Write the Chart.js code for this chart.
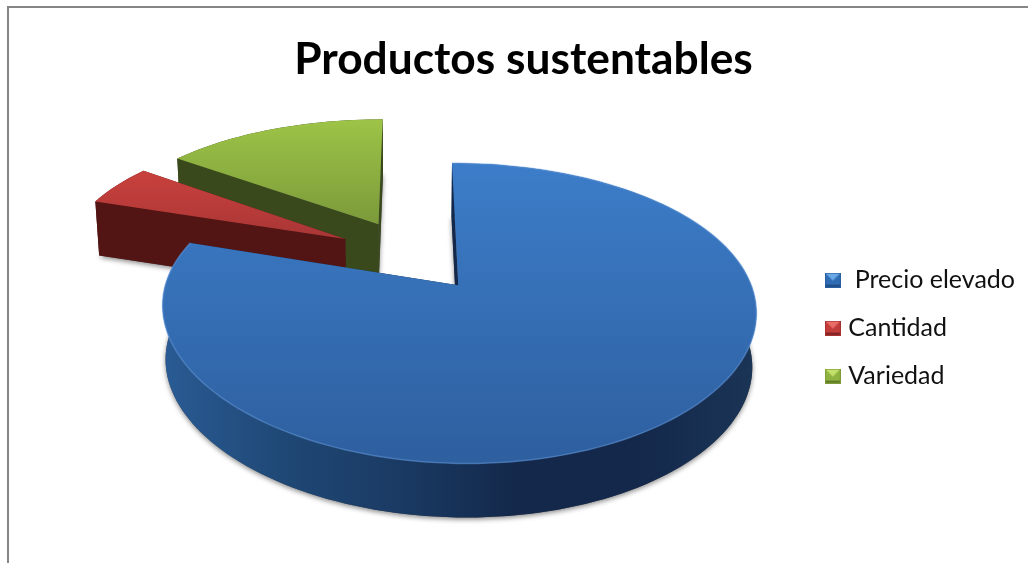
<!DOCTYPE html>
<html>
<head>
<meta charset="utf-8">
<title>Productos sustentables</title>
<script src="https://cdn.jsdelivr.net/npm/chart.js@4/dist/chart.umd.js"></script>
<style>
	html, body { margin: 0; background: #fff; overflow: hidden; }
	#wrap { position: relative; width: 1028px; height: 563px; overflow: hidden; }
	#frame { position: absolute; left: 7px; top: 6px; width: 1100px; height: 640px; border: 2px solid #868686; }
	canvas { position: absolute; left: 0; top: 0; }
</style>
</head>
<body>
<div id="wrap">
	<div id="frame"></div>
	<canvas id="pie" width="1028" height="563"></canvas>
</div>
<script>
const categories = [" Precio elevado", "Cantidad", "Variedad"];
const shares = [80, 5, 15];
const sliceColors = ["#3572b8", "#b93a38", "#8bb040"];
const topStops = [["#3c7dc9", "#2e5f9f"], ["#c9413d", "#a93636"], ["#9dc447", "#7b9a3a"]];
const wallStops = [
	["#2a5b94", "#1f4876", "#1a3a63", "#13284a", "#13284a", "#1b3557"],
	["#521514", "#4a1211"],
	["#39491b", "#344518"],
];

// flattening of the round pie into a tilted slab
const tilt = 0.4675;
const perspective = 0.00063;
const lift = -73.2;
const shiftX = -2.5;
const widen = 0.99;
const depth = 54;
const wallShrink = 0.012;

function project(cx, cy, wx, wy, z) {
	const s = 1 / (1 - perspective * wy);
	return {
		x: cx + shiftX + wx * widen * (1 + (s - 1) * 0.85) * (1 - wallShrink * z),
		y: cy + lift + tilt * wy * s + depth * z,
	};
}

// outline of one slice, exploded along its middle angle
function sliceRim(arc) {
	const mid = (arc.startAngle + arc.endAngle) / 2;
	const ox = Math.cos(mid) * arc.options.offset;
	const oy = Math.sin(mid) * arc.options.offset;
	const steps = Math.ceil((arc.endAngle - arc.startAngle) / 0.03);
	const rim = [];
	for (let i = 0; i <= steps; i++) {
		const t = arc.startAngle + (arc.endAngle - arc.startAngle) * i / steps;
		rim.push([ox + Math.cos(t) * arc.outerRadius, oy + Math.sin(t) * arc.outerRadius]);
	}
	return { rim, apex: [ox, oy] };
}

function trace(ctx, pts) {
	ctx.beginPath();
	pts.forEach((p, i) => (i ? ctx.lineTo(p.x, p.y) : ctx.moveTo(p.x, p.y)));
	ctx.closePath();
}

function verticalFill(ctx, pts, stops) {
	const ys = pts.map((p) => p.y);
	const g = ctx.createLinearGradient(0, Math.min(...ys), 0, Math.max(...ys));
	g.addColorStop(0, stops[0]);
	g.addColorStop(1, stops[1]);
	return g;
}

function horizontalFill(ctx, pts, stops) {
	const xs = pts.map((p) => p.x);
	const g = ctx.createLinearGradient(Math.min(...xs), 0, Math.max(...xs), 0);
	stops.forEach((c, i) => g.addColorStop(i / (stops.length - 1), c));
	return g;
}

const slabPie = {
	id: "slabPie",
	beforeDatasetsDraw(chart) {
		const ctx = chart.ctx;
		const arcs = chart.getDatasetMeta(0).data.map((arc, index) => ({ arc, index, ...sliceRim(arc) }));
		// far slices first
		arcs.sort((a, b) => a.apex[1] - b.apex[1]);

		// soft shadow under all the slices
		ctx.save();
		ctx.shadowColor = "rgba(0,0,0,.45)";
		ctx.shadowBlur = 5;
		ctx.shadowOffsetY = 2;
		ctx.fillStyle = "#555";
		arcs.forEach(({ arc, rim, apex }) => {
			const p = (w, z) => project(arc.x, arc.y, w[0], w[1], z);
			trace(ctx, [p(apex, 1), ...rim.map((w) => p(w, 1))]);
			ctx.fill();
		});
		ctx.restore();

		arcs.forEach(({ arc, index, rim, apex }) => {
			const p = (w, z) => project(arc.x, arc.y, w[0], w[1], z);
			const top = [p(apex, 0), ...rim.map((w) => p(w, 0))];
			const wall = [...rim.map((w) => p(w, 0)), ...rim.map((w) => p(w, 1)).reverse()];
			const last = rim[rim.length - 1];
			const walls = wallStops[index];
			const cutColor = walls[walls.length > 2 ? 3 : 0];

			// outer wall
			ctx.fillStyle = horizontalFill(ctx, wall, walls);
			trace(ctx, wall);
			ctx.fill();

			// the two cut faces, farther one first
			[[rim[0], apex], [last, apex]]
				.sort((a, b) => a[0][1] - b[0][1])
				.forEach(([edge, a]) => {
					ctx.fillStyle = cutColor;
					trace(ctx, [p(edge, 0), p(a, 0), p(a, 1), p(edge, 1)]);
					ctx.fill();
				});

			// top face and its lit rim
			ctx.fillStyle = verticalFill(ctx, top, topStops[index]);
			trace(ctx, top);
			ctx.fill();
			if (index === 0) {
				ctx.strokeStyle = "rgba(92,150,220,.55)";
				ctx.lineWidth = 1.5;
				ctx.beginPath();
				rim.forEach((w, i) => {
					const q = p(w, 0);
					if (i) ctx.lineTo(q.x, q.y);
					else ctx.moveTo(q.x, q.y);
				});
				ctx.stroke();
			}
		});
		return false;
	},
};

// bevelled legend square
function bevelMarker(light, mid, dark, rim) {
	const c = document.createElement("canvas");
	c.width = 16;
	c.height = 15;
	const m = c.getContext("2d");
	m.fillStyle = mid;
	m.fillRect(0, 0, 16, 15);
	m.fillStyle = light;
	m.beginPath();
	m.moveTo(0, 0);
	m.lineTo(16, 0);
	m.lineTo(8, 8);
	m.closePath();
	m.fill();
	m.fillStyle = dark;
	m.fillRect(0, 12, 16, 3);
	m.strokeStyle = rim;
	m.strokeRect(0.5, 0.5, 15, 14);
	return c;
}

const markers = [
	bevelMarker("#6aa9e6", "#2f6cb4", "#1f4d85", "#2a5f9f"),
	bevelMarker("#ea6d68", "#c23c3a", "#7e2322", "#a53231"),
	bevelMarker("#c3e06b", "#8eb33f", "#5f7a29", "#7d9c37"),
];

new Chart(document.getElementById("pie").getContext("2d"), {
	type: "pie",
	data: {
		labels: categories,
		datasets: [
			{
				data: shares,
				backgroundColor: sliceColors,
				borderWidth: 0,
				offset: 77,
				radius: 286,
			},
		],
	},
	options: {
		responsive: false,
		animation: false,
		layout: { padding: { left: 22, right: 3 } },
		plugins: {
			title: {
				display: true,
				text: "Productos sustentables",
				color: "#000",
				font: { family: "Lato", size: 44.3, weight: "bold" },
				padding: { top: 33, bottom: 7 },
			},
			legend: {
				position: "right",
				fullSize: false,
				labels: {
					color: "#111",
					font: { family: "Lato", size: 25 },
					usePointStyle: true,
					boxWidth: 6,
					padding: 23,
					generateLabels(chart) {
						const items = Chart.overrides.doughnut.plugins.legend.labels.generateLabels(chart);
						items.forEach((item, i) => (item.pointStyle = markers[i]));
						return items;
					},
				},
			},
			tooltip: { enabled: false },
		},
	},
	plugins: [slabPie],
});
</script>
</body>
</html>
